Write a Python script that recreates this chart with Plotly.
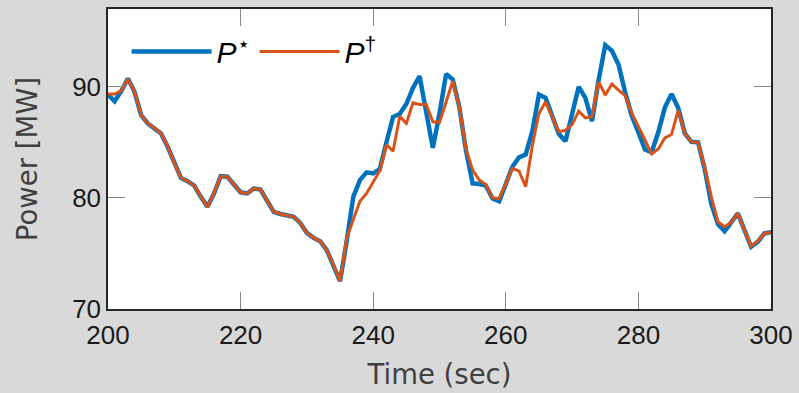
import plotly.graph_objects as go

time_s = list(range(200, 301))

p_star = [
    89.3, 88.7, 89.6, 90.75, 89.55, 87.45, 86.7, 86.3, 85.8, 84.6,
    83.1, 81.8, 81.5, 81.1, 80.1, 79.2, 80.4, 81.95, 81.9, 81.2,
    80.5, 80.4, 80.85, 80.75, 79.7, 78.75, 78.55, 78.45, 78.3, 77.75,
    76.85, 76.4, 76.1, 75.3, 74.0, 72.5, 76.1, 80.1, 81.6, 82.3,
    82.2, 82.6, 85.0, 87.3, 87.55, 88.45, 89.9, 90.95, 87.7, 84.5,
    87.6, 91.15, 90.65, 88.15, 84.25, 81.3, 81.25, 81.1, 79.95, 79.7,
    81.25, 82.8, 83.65, 83.9, 86.0, 89.3, 89.0, 87.4, 85.75, 85.1,
    87.4, 90.0, 89.0, 86.9, 90.6, 93.75, 93.25, 92.0, 89.5, 87.4,
    85.9, 84.35, 84.1, 85.9, 88.15, 89.35, 88.1, 85.8, 85.05, 85.0,
    82.6, 79.45, 77.65, 77.0, 77.8, 78.6, 77.1, 75.6, 76.05, 76.8,
    76.9,
]

p_dagger = [
    89.35, 89.35, 89.65, 90.7, 89.55, 87.45, 86.7, 86.3, 85.8, 84.65,
    83.15, 81.8, 81.5, 81.1, 80.1, 79.2, 80.45, 81.95, 81.9, 81.2,
    80.5, 80.4, 80.85, 80.75, 79.7, 78.75, 78.55, 78.45, 78.3, 77.75,
    76.85, 76.4, 76.1, 75.3, 74.0, 72.5, 76.35, 78.05, 79.7, 80.4,
    81.45, 82.45, 84.8, 84.2, 87.35, 86.7, 88.55, 88.4, 88.4, 86.85,
    86.8, 88.6, 90.5, 88.15, 84.4, 82.5, 81.6, 81.2, 80.0, 79.95,
    81.25, 82.65, 82.4, 81.0, 84.7, 87.6, 88.65, 87.3, 85.95, 86.1,
    86.6, 87.8, 87.2, 87.3, 90.45, 89.25, 90.25, 89.7, 89.2, 87.65,
    86.35, 85.2, 83.95, 84.4, 85.4, 85.7, 87.9, 85.8, 85.05, 85.0,
    82.75, 80.1, 77.85, 77.4, 77.8, 78.6, 77.1, 75.65, 76.1, 76.8,
    76.9,
]

x_ticks = [200, 220, 240, 260, 280, 300]
y_ticks = [70, 80, 90]

fig = go.Figure()
fig.add_trace(go.Scatter(
    x=time_s, y=p_star, mode="lines",
    name="<i>P</i><sup>\u22c6</sup>",
    line=dict(color="#0072BD", width=4.5),
))
fig.add_trace(go.Scatter(
    x=time_s, y=p_dagger, mode="lines",
    name="<i>P</i><sup>\u2020</sup>",
    line=dict(color="#D95319", width=3),
))

axis_common = dict(
    showgrid=False, zeroline=False,
    showline=True, linecolor="#262626", linewidth=1.5, mirror="ticks",
    ticks="inside", ticklen=17, tickwidth=1, tickcolor="#888888",
    tickfont=dict(family="Liberation Sans, Arial, sans-serif", size=26, color="#1a1a1a"),
)

fig.update_layout(
    width=799, height=393,
    margin=dict(l=108, r=28, t=9, b=84, autoexpand=False),
    paper_bgcolor="#d9d9d9",
    plot_bgcolor="white",
    showlegend=True,
    legend=dict(
        orientation="h", x=0.028, y=0.945, xanchor="left", yanchor="top",
        bgcolor="rgba(0,0,0,0)", borderwidth=0,
        font=dict(family="Liberation Sans, Arial, sans-serif", size=30, color="black"),
        itemwidth=80,
    ),
    xaxis=dict(
        range=[200, 300], tickvals=x_ticks, ticklabelstandoff=2,
        title=dict(text="Time (sec)", standoff=16,
                   font=dict(family="DejaVu Sans, sans-serif", size=27.5, color="#404040")),
        **axis_common,
    ),
    yaxis=dict(
        range=[70, 97], tickvals=y_ticks, ticklabelstandoff=0,
        title=dict(text="Power [MW]", standoff=27,
                   font=dict(family="DejaVu Sans, sans-serif", size=27.5, color="#404040")),
        **axis_common,
    ),
)

fig.write_html("out.html", config={"displayModeBar": False},
               post_script="document.body.style.margin='0';")
